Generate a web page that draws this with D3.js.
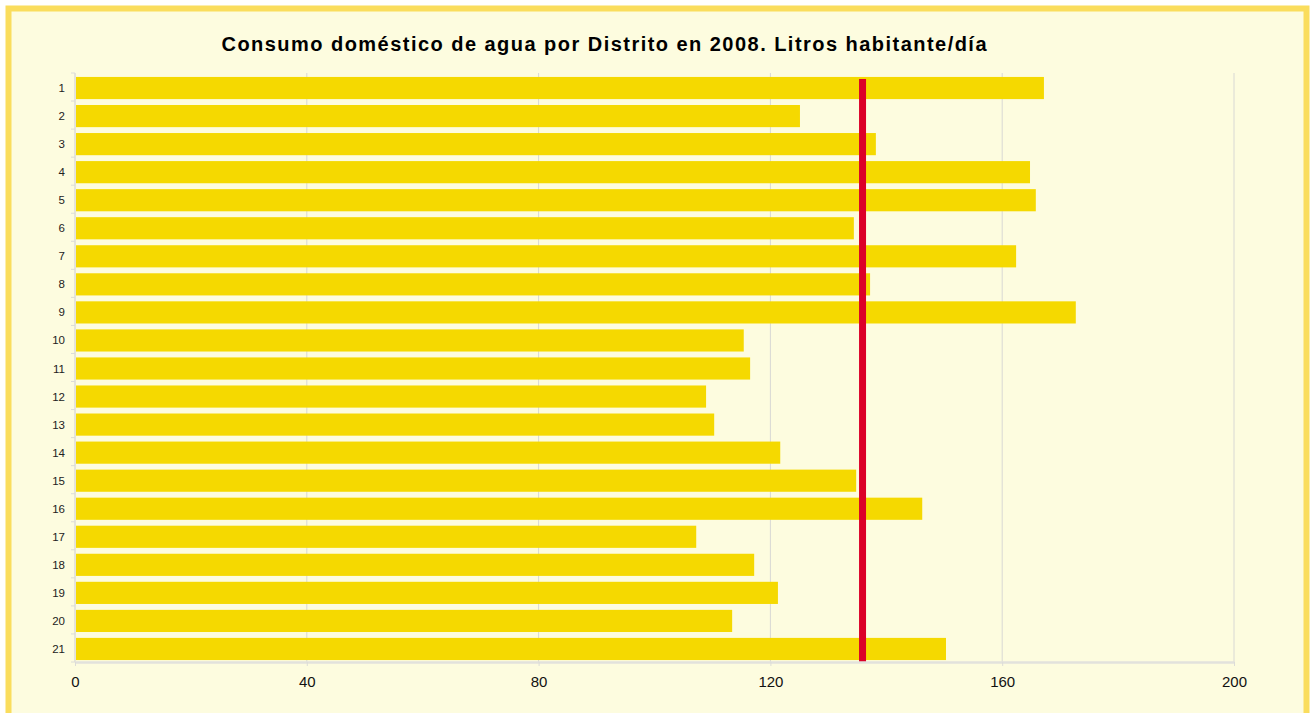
<!DOCTYPE html>
<html>
<head>
<meta charset="utf-8">
<script src="https://cdn.jsdelivr.net/npm/d3@7"></script>
<style>
  body { margin: 0; background: #ffffff; }
  svg { display: block; font-family: "Liberation Sans", Arial, sans-serif; }
</style>
</head>
<body>
<div id="wrapper"></div>
<script>
// # Data
const districts = ["1","2","3","4","5","6","7","8","9","10","11","12","13","14","15","16","17","18","19","20","21"];
const litres = [167.2,125.1,138.2,164.8,165.8,134.4,162.4,137.2,172.7,115.4,116.5,108.9,110.3,121.7,134.8,146.2,107.2,117.2,121.3,113.4,150.3];
const cityAverage = 135.9;
const xTicks = [0, 40, 80, 120, 160, 200];
const chartTitle = "Consumo doméstico de agua por Distrito en 2008. Litros habitante/día";

// # Dimensions
const dimensions = {
  width: 1314,
  height: 713,
  margin: { top: 73, right: 80, bottom: 51, left: 75 },
};
dimensions.boundedWidth = dimensions.width - dimensions.margin.left - dimensions.margin.right;
dimensions.boundedHeight = dimensions.height - dimensions.margin.top - dimensions.margin.bottom;

const svg = d3.select("#wrapper")
  .append("svg")
  .attr("width", dimensions.width)
  .attr("height", dimensions.height);

// frame
svg.append("rect")
  .attr("x", 8.5).attr("y", 8.5)
  .attr("width", 1298).attr("height", 720)
  .attr("fill", "#fdfcdf")
  .attr("stroke", "#fadd5d")
  .attr("stroke-width", 6);

svg.append("text")
  .attr("x", 604)
  .attr("y", 51)
  .attr("text-anchor", "middle")
  .attr("textLength", 765)
  .attr("lengthAdjust", "spacing")
  .style("font-size", "20px")
  .style("font-weight", "bold")
  .attr("fill", "#000")
  .text(chartTitle);

const bounds = svg.append("g")
  .attr("transform", `translate(${dimensions.margin.left},${dimensions.margin.top})`);

// # Scales
const xScale = d3.scaleLinear()
  .domain([0, 200])
  .range([0, dimensions.boundedWidth]);

// bars sit 1px lower than the category edges, like the original
const yScale = d3.scaleBand()
  .domain(districts)
  .range([1, dimensions.boundedHeight + 1])
  .paddingInner(0.21)
  .paddingOuter(0.105);

// # Gridlines
bounds.append("g")
  .selectAll("line")
  .data(xTicks.filter(d => d > 0))
  .join("line")
  .attr("x1", d => xScale(d)).attr("x2", d => xScale(d))
  .attr("y1", 0).attr("y2", dimensions.boundedHeight)
  .attr("stroke", "#d8d8d4")
  .attr("stroke-width", 1);

// # Bars
const rows = districts.map((d, i) => ({ district: d, value: litres[i] }));

bounds.append("g")
  .selectAll("rect")
  .data(rows)
  .join("rect")
  .attr("x", xScale(0) + 1)
  .attr("y", d => yScale(d.district))
  .attr("width", d => xScale(d.value) - xScale(0) - 1)
  .attr("height", yScale.bandwidth())
  .attr("fill", "#f5d900");

// # Average line
bounds.append("line")
  .attr("x1", xScale(cityAverage)).attr("x2", xScale(cityAverage))
  .attr("y1", yScale(districts[0]) + 2)
  .attr("y2", dimensions.boundedHeight)
  .attr("stroke", "#dc0028")
  .attr("stroke-width", 7);

// # Axes
const step = dimensions.boundedHeight / districts.length;
const bandEdges = d3.range(districts.length + 1).map(i => i * step);

const yAxis = bounds.append("g");
yAxis.append("line")
  .attr("x1", 0).attr("x2", 0)
  .attr("y1", 0).attr("y2", dimensions.boundedHeight)
  .attr("stroke", "#dcdcd8")
  .attr("stroke-width", 1.5);
yAxis.selectAll(".tick")
  .data(bandEdges)
  .join("line")
  .attr("x1", -4).attr("x2", 0)
  .attr("y1", d => d).attr("y2", d => d)
  .attr("stroke", "#dcdcd8");
yAxis.selectAll("text")
  .data(districts)
  .join("text")
  .attr("x", -10)
  .attr("y", d => yScale(d) + yScale.bandwidth() / 2)
  .attr("dy", "0.35em")
  .attr("text-anchor", "end")
  .style("font-size", "11.5px")
  .attr("fill", "#222")
  .text(d => d);

const xAxisGenerator = d3.axisBottom(xScale)
  .tickValues(xTicks)
  .tickSize(4)
  .tickPadding(10)
  .tickSizeOuter(0);

const xAxis = bounds.append("g")
  .attr("transform", `translate(0,${dimensions.boundedHeight})`)
  .call(xAxisGenerator);
xAxis.select(".domain").attr("stroke", "#e2e2dc").attr("stroke-width", 2.5);
xAxis.selectAll(".tick line").attr("stroke", "#dcdcd8");
xAxis.selectAll(".tick text")
  .style("font-size", "15px")
  .style("font-family", "\"Liberation Sans\", Arial, sans-serif")
  .attr("fill", "#111");
</script>
</body>
</html>
